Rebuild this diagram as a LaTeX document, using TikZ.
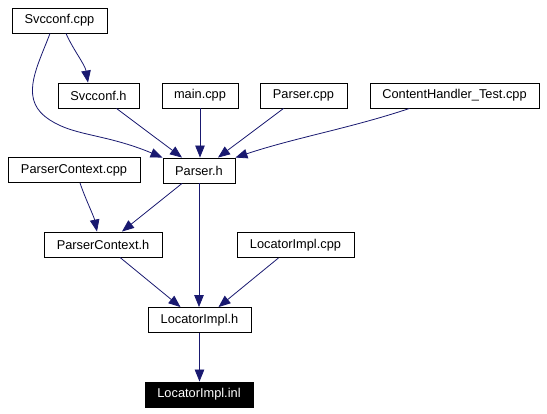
\documentclass[tikz,border=0pt]{standalone}
\usepackage{fontspec}
\setmainfont{Liberation Sans}
\usetikzlibrary{arrows.meta}
\definecolor{edgeblue}{RGB}{25,25,112}
\begin{document}
\begin{tikzpicture}[x=1pt,y=-1pt,
  box/.style={draw=black,line width=0.9pt,fill=white,minimum height=25pt,inner sep=0pt,
    font=\fontsize{12.8}{15}\selectfont,anchor=center},
  dark/.style={box,fill=black,text=white},
  edge/.style={draw=edgeblue,line width=0.8pt,-{Triangle[length=12pt,width=9.5pt]}}]
\useasboundingbox (0,0) rectangle (547,413);
\node[box,minimum width=95pt] (svccpp) at (59.5,20.5) {Svcconf.cpp};
\node[box,minimum width=81pt] (svch) at (98.5,95.5) {Svcconf.h};
\node[box,minimum width=76pt] (maincpp) at (200,95.5) {main.cpp};
\node[box,minimum width=87pt] (parsercpp) at (303.5,95.5) {Parser.cpp};
\node[box,minimum width=169pt] (cht) at (454.5,95.5) {ContentHandler\_Test.cpp};
\node[box,minimum width=132pt] (pccpp) at (74,170) {ParserContext.cpp};
\node[box,minimum width=72pt] (parserh) at (199,170.5) {Parser.h};
\node[box,minimum width=118pt] (pch) at (103,244.5) {ParserContext.h};
\node[box,minimum width=117pt] (licpp) at (295.5,245) {LocatorImpl.cpp};
\node[box,minimum width=103pt] (lih) at (199.5,320) {LocatorImpl.h};
\node[dark,minimum width=108pt] (liinl) at (199,394.5) {LocatorImpl.inl};

\draw[edge] ([xshift=6.5]svccpp.south) .. controls +(7,16) and +(-3,-18) .. ([xshift=-10.5]svch.north);
\draw[edge] ([xshift=-9.5]svccpp.south) .. controls +(-12,32) and +(-25,-20) .. ++(-5,83)
   .. controls +(25,20) and +(-60,-25) .. (parserh.north west);
\draw[edge] ([xshift=18]svch.south) -- ([xshift=-17]parserh.north);
\draw[edge] (maincpp.south) -- (maincpp.south |- parserh.north);
\draw[edge] ([xshift=-20]parsercpp.south) -- ([xshift=19]parserh.north);
\draw[edge] ([xshift=-45]cht.south) .. controls +(-60,20) and +(60,-20) .. (parserh.north east);
\draw[edge] ([xshift=6]pccpp.south) .. controls +(5,15) and +(-3,-15) .. ([xshift=-6]pch.north);
\draw[edge] ([xshift=-17]parserh.south) -- ([xshift=19]pch.north);
\draw[edge] (parserh.south) -- (parserh.south |- lih.north);
\draw[edge] ([xshift=17]pch.south) -- ([xshift=-19]lih.north);
\draw[edge] ([xshift=-17]licpp.south) -- ([xshift=19]lih.north);
\draw[edge] (lih.south) -- (lih.south |- liinl.north);
\end{tikzpicture}
\end{document}
